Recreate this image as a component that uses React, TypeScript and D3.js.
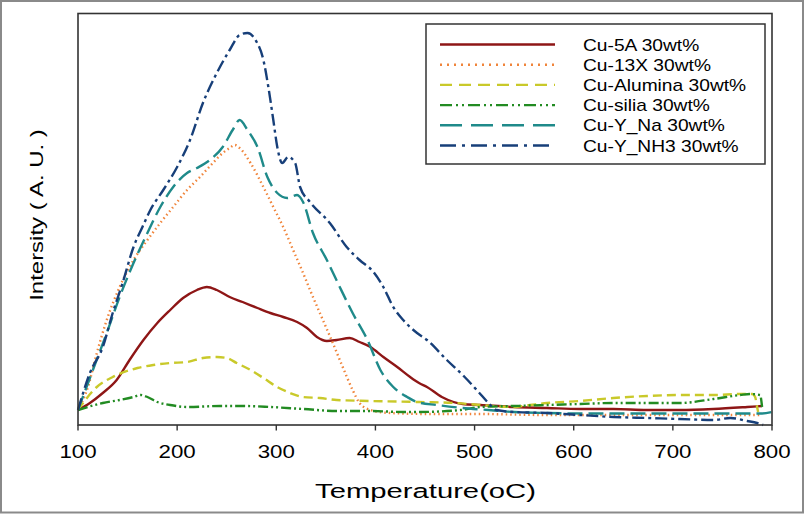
import React from 'react';
import * as d3 from 'd3';

const W = 806;
const H = 514;

const xTicks = [100, 200, 300, 400, 500, 600, 700, 800];
const seriesNames = [
  'Cu-5A 30wt%',
  'Cu-13X 30wt%',
  'Cu-Alumina 30wt%',
  'Cu-silia 30wt%',
  'Cu-Y_Na 30wt%',
  'Cu-Y_NH3 30wt%',
];

// [temperature (oC), intensity (a.u.)]
const cu5A = [
  [100, 0], [112, 7], [125, 17], [139, 30], [152, 50], [166, 70], [180, 87], [193, 100], [206, 112],
  [220, 120], [230, 123], [240, 120], [253, 113], [266, 108], [281, 102], [294, 97], [307, 93],
  [321, 88], [331, 82], [341, 73], [351, 69], [361, 70], [374, 72], [384, 68], [395, 63], [408, 53],
  [422, 43], [435, 33], [444, 27], [452, 23], [467, 13], [488, 6], [506, 5], [539, 3], [573, 2],
  [606, 1], [640, 1], [674, 0], [707, 0], [741, 1], [775, 3], [790, 4],
];
const cu13X = [
  [100, 0], [110, 23], [119, 57], [129, 90], [142, 123], [156, 150], [170, 170], [183, 187], [196, 203],
  [210, 220], [223, 233], [236, 247], [246, 257], [253, 262], [258, 265], [263, 262], [274, 247],
  [287, 223], [297, 203], [307, 183], [317, 160], [327, 137], [337, 113], [347, 90], [357, 67],
  [367, 43], [377, 20], [384, 7], [395, 0], [415, -3], [455, -4], [505, -4], [570, -5], [700, -5],
  [790, -5],
];
const cuAlumina = [
  [100, 0], [119, 23], [135, 33], [160, 42], [176, 45], [193, 47], [210, 48], [226, 52], [240, 53],
  [250, 52], [260, 47], [274, 40], [287, 32], [301, 23], [314, 17], [327, 13], [344, 12], [361, 10],
  [395, 9], [444, 8], [480, 7], [506, 5], [539, 3], [556, 5], [573, 7], [606, 9], [640, 12], [674, 14],
  [707, 15], [741, 15], [768, 16], [780, 16], [783, 13], [785, 3], [786, -2],
];
const cuSilia = [
  [100, 0], [125, 7], [142, 10], [156, 13], [163, 15], [170, 13], [180, 8], [193, 5], [210, 3],
  [243, 4], [266, 4], [294, 3], [327, 1], [361, -1], [395, -1], [428, -2], [444, -2], [486, 0],
  [506, 3], [539, 4], [573, 5], [606, 6], [640, 7], [674, 7], [707, 7], [741, 11], [768, 15],
  [778, 16], [788, 15], [790, 3],
];
const cuYNa = [
  [100, 0], [115, 40], [129, 77], [142, 113], [156, 147], [170, 177], [183, 203], [196, 223], [210, 237],
  [220, 242], [233, 250], [246, 263], [256, 280], [263, 290], [271, 280], [281, 263], [291, 233],
  [301, 217], [311, 212], [321, 215], [327, 208], [337, 177], [351, 150], [364, 123], [377, 97],
  [392, 70], [405, 40], [418, 23], [432, 13], [442, 8], [462, 5], [488, 2], [514, 0], [540, -2],
  [573, -3], [620, -3.5], [700, -3.5], [790, -3.5], [800, -2],
];
const cuYNH3 = [
  [100, 0], [112, 37], [125, 63], [135, 97], [145, 127], [156, 163], [165, 183], [173, 200], [186, 220],
  [200, 243], [213, 270], [226, 307], [240, 337], [253, 360], [263, 375], [271, 377], [279, 370],
  [287, 350], [292, 323], [297, 290], [301, 263], [306, 247], [312, 253], [319, 247], [324, 223],
  [334, 208], [354, 187], [371, 163], [384, 150], [398, 138], [408, 123], [418, 103], [428, 90],
  [442, 77], [452, 70], [472, 50], [490, 33], [504, 18], [514, 7], [522, 0], [540, -2], [573, -3],
  [606, -5], [640, -7], [674, -8], [707, -9], [741, -10], [758, -8], [775, -11], [785, -13], [791, -15],
];

const seriesData = [cu5A, cu13X, cuAlumina, cuSilia, cuYNa, cuYNH3];
const seriesColors = ['#8e1616', '#f0843a', '#c9c92a', '#228b22', '#1f8a8a', '#173f79'];
const seriesDash = ['none', '1.5 3', '9 5', '10 3 2 3 2 3', '15 6', '12 4 3 4'];
const legendDash = ['none', '2 5', '12 7', '12 4 2 4 2 4', '22 9', '16 6 3 6'];

const FONT = "'Liberation Sans', Arial, sans-serif";

export default function App() {
  const x = d3.scaleLinear().domain([100, 800]).range([78, 772]);
  const y = d3.scaleLinear().domain([-15, 397]).range([425, 13]);
  const line = d3
    .line<number[]>()
    .x((d) => x(d[0]))
    .y((d) => y(d[1]))
    .curve(d3.curveMonotoneX);

  const legendX0 = 440;
  const legendX1 = 555;
  const legendTextX = 583;
  const legendRow = (i: number) => 44.5 + 20.2 * i;

  return (
    <svg
      width={W}
      height={H}
      style={{ position: 'absolute', left: 0, top: 0, display: 'block', background: '#fff' }}
    >
      <rect x={0} y={0} width={W} height={H} fill="#fff" />
      <rect x={1} y={1} width={802} height={511.5} fill="none" stroke="#8a8a8a" strokeWidth={2} />

      {/* curves */}
      {seriesData.map((d, i) => (
        <path
          key={i}
          d={line(d as number[][]) || ''}
          fill="none"
          stroke={seriesColors[i]}
          strokeWidth={2.4}
          strokeDasharray={seriesDash[i]}
          strokeLinejoin="round"
        />
      ))}

      {/* frame */}
      <rect x={78} y={13.5} width={694} height={411.5} fill="none" stroke="#333" strokeWidth={1.6} />

      {/* x ticks */}
      {xTicks.map((t) => (
        <g key={t}>
          <line x1={x(t)} x2={x(t)} y1={425} y2={430.5} stroke="#333" strokeWidth={1.4} />
          <text
            transform={`translate(${x(t)},457.5) scale(1.24,1)`}
            textAnchor="middle"
            fontFamily={FONT}
            fontSize={18}
            fill="#000"
          >
            {t}
          </text>
        </g>
      ))}

      {/* axis titles */}
      <text
        transform="translate(425.5,497.5) scale(1.5,1)"
        textAnchor="middle"
        fontFamily={FONT}
        fontSize={19.5}
        fill="#000"
      >
        Temperature(oC)
      </text>
      <text
        transform="translate(43,215) rotate(-90) scale(1.26,1)"
        textAnchor="middle"
        fontFamily={FONT}
        fontSize={19}
        fill="#000"
      >
        Intersity ( A. U. )
      </text>

      {/* legend */}
      <rect x={426} y={24} width={339} height={140} fill="#fff" stroke="#333" strokeWidth={1.5} />
      {seriesNames.map((name, i) => (
        <g key={name}>
          <line
            x1={legendX0}
            x2={legendX1}
            y1={legendRow(i)}
            y2={legendRow(i)}
            stroke={seriesColors[i]}
            strokeWidth={2.4}
            strokeDasharray={legendDash[i]}
          />
          <text
            transform={`translate(${legendTextX},${legendRow(i) + 6}) scale(1.2,1)`}
            fontFamily={FONT}
            fontSize={16}
            fill="#000"
          >
            {name}
          </text>
        </g>
      ))}
    </svg>
  );
}
